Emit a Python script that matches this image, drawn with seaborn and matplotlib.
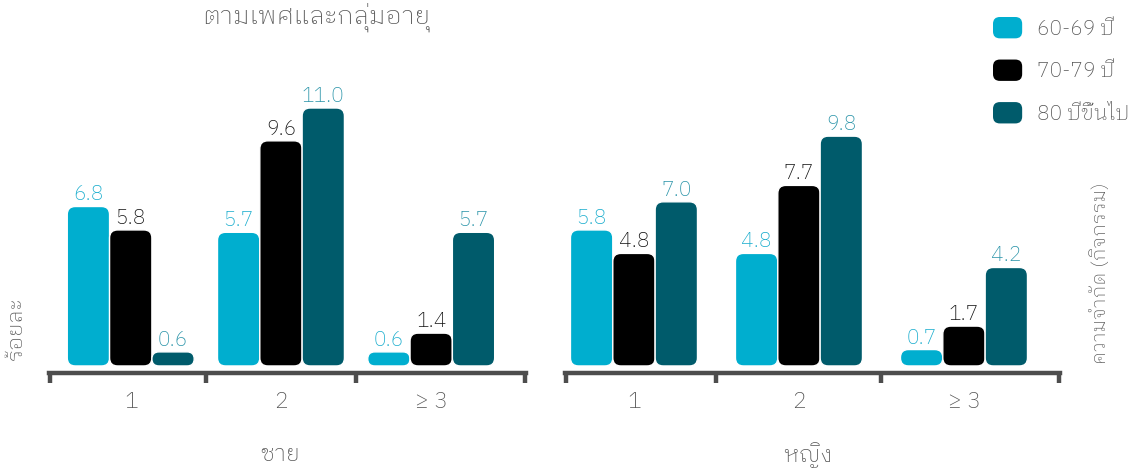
import matplotlib
matplotlib.use("Agg")
import matplotlib.pyplot as plt
from matplotlib.patches import FancyBboxPatch, Patch
from matplotlib.legend_handler import HandlerPatch
import pandas as pd
import seaborn as sns

# data (percent)
CATEGORIES = ["1", "2", "≥ 3"]
AGE_GROUPS = ["60-69 ปี", "70-79 ปี", "80 ปีขึ้นไป"]
MALE_60_69 = [6.8, 5.7, 0.6]
MALE_70_79 = [5.8, 9.6, 1.4]
MALE_80_UP = [0.6, 11.0, 5.7]
FEMALE_60_69 = [5.8, 4.8, 0.7]
FEMALE_70_79 = [4.8, 7.7, 1.7]
FEMALE_80_UP = [7.0, 9.8, 4.2]

TITLE = "ตามเพศและกลุ่มอายุ"
Y_LABEL = "ร้อยละ"
RIGHT_LABEL = "ความจำกัด (กิจกรรม)"
PANEL_LABELS = ["ชาย", "หญิง"]

COLORS = ["#00AECF", "#000000", "#005B6B"]
LABEL_COLORS = ["#17ACCD", "#111111", "#2893A8"]
TEXT_GRAY = "#555555"
AXIS_GRAY = "#4D4D4D"
FONT = ["IBM Plex Sans Thai Looped", "DejaVu Sans"]


def build_frame(series):
    rows = []
    for age, values in zip(AGE_GROUPS, series):
        for cat, v in zip(CATEGORIES, values):
            rows.append({"category": cat, "age": age, "value": v})
    return pd.DataFrame(rows)


class RoundedHandler(HandlerPatch):
    def create_artists(self, legend, orig_handle, xdescent, ydescent,
                       width, height, fontsize, trans):
        p = FancyBboxPatch((-xdescent, -ydescent), width, height,
                           boxstyle=f"round,pad=0,rounding_size={height * 0.32}",
                           fc=orig_handle.get_facecolor(), ec="none",
                           transform=trans)
        return [p]


def draw_panel(ax, df, xlim, width):
    sns.barplot(data=df, x="category", y="value", hue="age",
                order=CATEGORIES, hue_order=AGE_GROUPS, palette=COLORS,
                width=width, saturation=1, errorbar=None, legend=False, ax=ax)
    ax.set_xlim(*xlim)
    ax.set_ylim(-0.3, 13.9)
    sns.despine(ax=ax, left=True, top=True, right=True)
    ax.spines["bottom"].set_linewidth(3.2)
    ax.spines["bottom"].set_color(AXIS_GRAY)
    ax.set_yticks([])
    ax.set_xlabel("")
    ax.set_ylabel("")
    ax.set_xticks(range(len(CATEGORIES)))
    ax.set_xticklabels(CATEGORIES)
    ax.tick_params(axis="x", which="major", bottom=False, length=0, pad=13,
                   labelsize=16.5, labelcolor=TEXT_GRAY)
    ax.set_xticks([xlim[0] + 0.006, 0.5, 1.5, xlim[1] - 0.006], minor=True)
    ax.tick_params(axis="x", which="minor", bottom=True, length=7, width=3.2,
                   color=AXIS_GRAY, direction="out")

    # replace the square bars by rounded ones, same place and size
    (x0, y0), (x1, y1) = ax.transData.transform([(0, 0), (1, 1)])
    px_x, px_y = x1 - x0, y1 - y0
    for ci, cont in enumerate(ax.containers):
        for bar in cont:
            x, y = bar.get_x(), bar.get_y()
            w, h = bar.get_width(), bar.get_height()
            r = min(8, h * px_y / 2, w * px_x / 2)
            p = FancyBboxPatch((x, y), w, h,
                               boxstyle=f"round,pad=0,rounding_size={r / px_x}",
                               mutation_aspect=px_x / px_y,
                               fc=bar.get_facecolor(), ec="white", lw=1.0)
            ax.add_patch(p)
            bar.set_visible(False)
            ax.text(x + w / 2, y + h + 2 / px_y, f"{h:.1f}", ha="center",
                    va="bottom", color=LABEL_COLORS[ci], fontsize=15)


sns.set_theme(style="white")
plt.rcParams["font.family"] = FONT
plt.rcParams["font.weight"] = "light"

W, H = 1138, 470
fig = plt.figure(figsize=(W / 100, H / 100), dpi=100)
ax_m = fig.add_axes([49 / W, 97 / H, 477 / W, 333 / H])
ax_f = fig.add_axes([565 / W, 97 / H, 495 / W, 333 / H])

draw_panel(ax_m, build_frame([MALE_60_69, MALE_70_79, MALE_80_UP]),
           (-0.544, 2.631), 0.845)
draw_panel(ax_f, build_frame([FEMALE_60_69, FEMALE_70_79, FEMALE_80_UP]),
           (-0.418, 2.582), 0.77)

fig.text(280 / W, 1 - 455 / H, PANEL_LABELS[0], ha="center", va="center",
         fontsize=16.5, color=TEXT_GRAY)
fig.text(808 / W, 1 - 455 / H, PANEL_LABELS[1], ha="center", va="center",
         fontsize=16.5, color=TEXT_GRAY)
fig.text(316 / W, 1 - 17 / H, TITLE, ha="center", va="center",
         fontsize=18.5, color=TEXT_GRAY)
fig.text(16 / W, 1 - 328 / H, Y_LABEL, ha="center", va="center",
         rotation=90, fontsize=16, color=TEXT_GRAY)
fig.text(1100 / W, 1 - 273 / H, RIGHT_LABEL, ha="center", va="center",
         rotation=90, fontsize=14, color=TEXT_GRAY)

handles = [Patch(facecolor=c) for c in COLORS]
fig.legend(handles, AGE_GROUPS, handler_map={Patch: RoundedHandler()},
           loc="upper left", bbox_to_anchor=(993 / W, 1 - 17 / H),
           frameon=False, fontsize=15, handlelength=1.4, handleheight=1.2,
           handletextpad=0.72, labelspacing=1.0, borderpad=0,
           borderaxespad=0, labelcolor=TEXT_GRAY)

fig.savefig("out.png", dpi=100)
